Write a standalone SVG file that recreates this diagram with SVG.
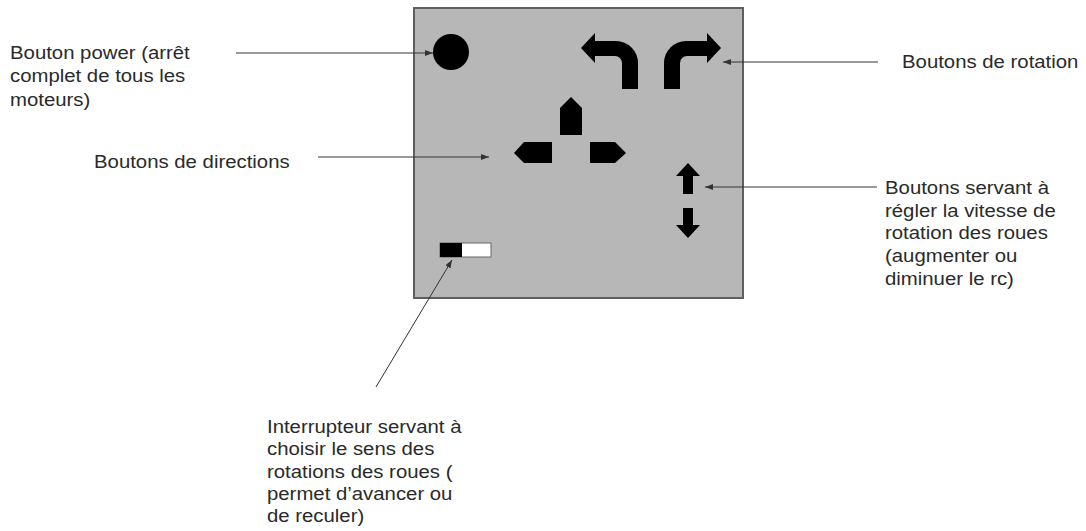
<svg xmlns="http://www.w3.org/2000/svg" width="1086" height="531" viewBox="0 0 1086 531">
  <style>
    .lbl { font-family: "Liberation Sans", Arial, sans-serif; font-size: 18.5px; fill: #2a2a2a; }
    .btn { fill: #000; }
    .conn { stroke: #333; stroke-width: 1; fill: none; marker-end: url(#tip); }
  </style>
  <defs>
    <marker id="tip" markerUnits="userSpaceOnUse" markerWidth="8" markerHeight="6" refX="8" refY="3" orient="auto">
      <path d="M0,0 L8,3 L0,6 Z" fill="#333"/>
    </marker>
  </defs>

  <rect width="1086" height="531" fill="#fff"/>

  <!-- remote control panel -->
  <g id="panel">
    <rect x="414" y="8" width="329" height="290" fill="#b7b7b7" stroke="#5f5f5f" stroke-width="2"/>
  </g>

  <!-- power button -->
  <g id="power-button">
    <circle class="btn" cx="451" cy="52" r="18"/>
  </g>

  <!-- rotation buttons -->
  <g id="rotate-left">
    <path class="btn" d="M581,48 L595,33 L595,41 L616,41 A22,22 0 0 1 638,63 L638,89 L622,89 L622,63 A7,7 0 0 0 615,56 L595,56 L595,63 Z"/>
  </g>
  <g id="rotate-right">
    <path class="btn" d="M721,48 L707,33 L707,41 L686,41 A22,22 0 0 0 664,63 L664,89 L680,89 L680,63 A7,7 0 0 1 687,56 L707,56 L707,63 Z"/>
  </g>

  <!-- direction buttons -->
  <g id="dir-forward">
    <polygon class="btn" points="560,108 571,97 582,108 582,135 560,135"/>
  </g>
  <g id="dir-left">
    <polygon class="btn" points="514,153 524,142 552,142 552,163 524,163"/>
  </g>
  <g id="dir-right">
    <polygon class="btn" points="590,142 615,142 626,153 615,163 590,163"/>
  </g>

  <!-- speed buttons -->
  <g id="speed-up">
    <polygon class="btn" points="688,163 700,176 693,176 693,194 683,194 683,176 676,176"/>
  </g>
  <g id="speed-down">
    <polygon class="btn" points="683,208 693,208 693,225 700,225 688,238 676,225 683,225"/>
  </g>

  <!-- direction switch -->
  <g id="switch">
    <rect x="440" y="243" width="51" height="14" fill="#fff" stroke="#666" stroke-width="1"/>
    <rect x="440" y="243" width="22" height="14" fill="#000"/>
  </g>

  <!-- callout connectors -->
  <g id="connectors">
    <path class="conn" d="M236,53 L433,53"/>
    <path class="conn" d="M318,157 L489,157"/>
    <path class="conn" d="M878,62 L723,62"/>
    <path class="conn" d="M877,187 L705,187"/>
    <path class="conn" d="M376,387 L452,260"/>
  </g>

  <!-- callout labels -->
  <g id="label-power">
    <text class="lbl" transform="translate(10,59) scale(1.1,1)">
      <tspan x="0" y="0">Bouton power (arrêt</tspan>
      <tspan x="0" y="23.5">complet de tous les</tspan>
      <tspan x="0" y="47">moteurs)</tspan>
    </text>
  </g>
  <g id="label-directions">
    <text class="lbl" transform="translate(94,168) scale(1.1,1)">Boutons de directions</text>
  </g>
  <g id="label-rotation">
    <text class="lbl" transform="translate(902,68) scale(1.1,1)">Boutons de rotation</text>
  </g>
  <g id="label-speed">
    <text class="lbl" transform="translate(885,194) scale(1.1,1)">
      <tspan x="0" y="0">Boutons servant à</tspan>
      <tspan x="0" y="22.7">régler la vitesse de</tspan>
      <tspan x="0" y="45.4">rotation des roues</tspan>
      <tspan x="0" y="68.1">(augmenter ou</tspan>
      <tspan x="0" y="90.8">diminuer le rc)</tspan>
    </text>
  </g>
  <g id="label-switch">
    <text class="lbl" transform="translate(267,433) scale(1.1,1)">
      <tspan x="0" y="0">Interrupteur servant à</tspan>
      <tspan x="0" y="22.3">choisir le sens des</tspan>
      <tspan x="0" y="44.6">rotations des roues (</tspan>
      <tspan x="0" y="66.9">permet d’avancer ou</tspan>
      <tspan x="0" y="89.2">de reculer)</tspan>
    </text>
  </g>
</svg>
